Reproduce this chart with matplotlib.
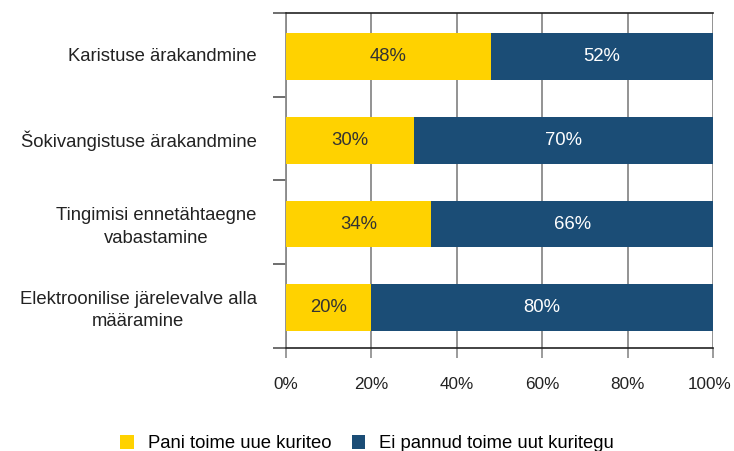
import numpy as np
import matplotlib.pyplot as plt
import matplotlib.transforms as mtransforms

plt.rcParams['font.family'] = ['Liberation Sans', 'DejaVu Sans']

categories = ['Karistuse ärakandmine',
              'Šokivangistuse ärakandmine',
              'Tingimisi ennetähtaegne\nvabastamine',
              'Elektroonilise järelevalve alla\nmääramine']
committed = [48, 30, 34, 20]
not_committed = [52, 70, 66, 80]
series_names = ['Pani toime uue kuriteo', 'Ei pannud toime uut kuritegu']
yellow, navy = '#FFD200', '#1B4D76'
fs = 13.3

fig = plt.figure(figsize=(7.34, 4.51), dpi=100)
ax = fig.add_axes([0.3896, 0.2284, 0.5818, 0.7428])

y = np.arange(len(categories))
h = 0.56
b1 = ax.barh(y + 0.02, committed, height=h, color=yellow, label=series_names[0], zorder=3)
b2 = ax.barh(y + 0.02, not_committed, left=committed, height=h, color=navy, label=series_names[1], zorder=3)

for i in range(len(categories)):
    ax.text(committed[i] / 2, y[i] + 0.02, f'{committed[i]}%', ha='center', va='center',
            fontsize=fs, color='#333333', zorder=4)
    ax.text(committed[i] + not_committed[i] / 2, y[i] + 0.02, f'{not_committed[i]}%',
            ha='center', va='center', fontsize=fs, color='white', zorder=4)

ax.set_xlim(0, 100)
ax.set_ylim(len(categories) - 0.5, -0.5)
ax.set_xticks(np.arange(0, 101, 20))
ax.set_xticklabels([f'{v}%' for v in range(0, 101, 20)], fontsize=12.3, color='#222222')
ax.tick_params(axis='x', length=7, width=1.2, color='#8a8a8a', pad=14)
ax.xaxis.grid(True, color='#8a8a8a', linewidth=1.3, zorder=0)
# pull the 100% label in a little so it stays inside the figure
last = ax.get_xticklabels()[-1]
last.set_transform(last.get_transform() + mtransforms.ScaledTranslation(-3 / 100, 0, fig.dpi_scale_trans))

ax.set_yticks(y)
ax.set_yticklabels(categories, fontsize=fs, color='#222222', multialignment='center',
                   linespacing=1.4)
ax.tick_params(axis='y', which='major', length=0, pad=21)
ax.set_yticks(np.arange(-0.5, len(categories)), minor=True)
ax.tick_params(axis='y', which='minor', length=9.5, width=1.2, color='#555555')

for s in ['top', 'bottom']:
    ax.spines[s].set_color('#222222')
    ax.spines[s].set_linewidth(1.2)
ax.spines['left'].set_color('#8a8a8a')
ax.spines['left'].set_linewidth(1.3)
ax.spines['right'].set_visible(False)

fig.legend(handles=[b1, b2], loc='lower center', bbox_to_anchor=(0.5, -0.04), ncol=2,
           frameon=False, fontsize=fs, handlelength=0.75, handleheight=0.75,
           columnspacing=1.1, handletextpad=0.75)

fig.savefig('out.png', dpi=100)
